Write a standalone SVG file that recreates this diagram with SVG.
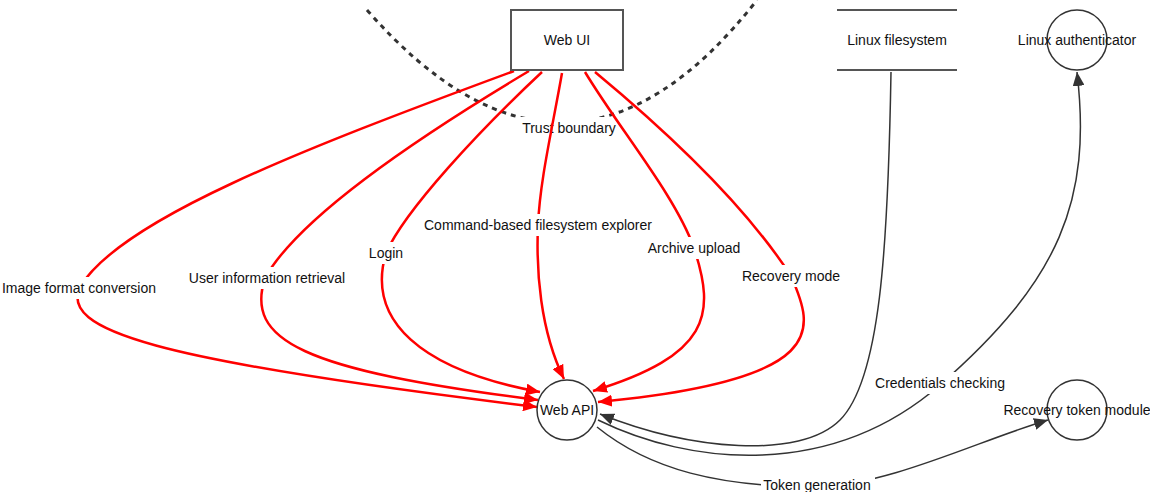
<svg xmlns="http://www.w3.org/2000/svg" width="1150" height="492" viewBox="0 0 1150 492">
<style>
  text { font-family: "Liberation Sans", Arial, sans-serif; font-size: 14px; fill: #111; text-anchor: middle; dominant-baseline: central; }
  .boundary { fill: none; stroke: #333; stroke-width: 3; stroke-dasharray: 5 5; }
  .red { fill: none; stroke: #ff0000; stroke-width: 2.5; marker-end: url(#arrRed); }
  .blk { fill: none; stroke: #333; stroke-width: 1.5; }
  .blkarr { marker-end: url(#arrBlk); }
  .lblbg { fill: #fff; stroke: none; }
  .proc { fill: none; stroke: #333; stroke-width: 1.5; }
  .actor { fill: #fff; stroke: #555; stroke-width: 2; }
  .store { stroke: #555; stroke-width: 2; }
</style>
<defs>
  <marker id="arrRed" markerUnits="userSpaceOnUse" markerWidth="16" markerHeight="12" refX="14" refY="6" orient="auto">
    <path d="M0,0 L14,6 L0,12 z" fill="#ff0000"/>
  </marker>
  <marker id="arrBlk" markerUnits="userSpaceOnUse" markerWidth="16" markerHeight="12" refX="14" refY="6" orient="auto">
    <path d="M0,0 L14,6 L0,12 z" fill="#333"/>
  </marker>
</defs>
<rect width="1150" height="492" fill="#fff"/>

<g id="trust-boundary">
  <path class="boundary" d="M367,10 Q569,240 757,0"/>
  <rect class="lblbg" x="519" y="117" width="100" height="24"/>
  <text x="569" y="128">Trust boundary</text>
</g>

<g id="connectors">
  <path class="red" d="M514,71 C300,150 120,220 80,287 C60,330 150,360 537,407"/>
  <path class="red" d="M529,71 C430,130 300,215 265,278 C245,340 300,370 538,400"/>
  <path class="red" d="M542,72 C480,130 405,210 386,253 C366,320 420,370 540,392"/>
  <path class="red" d="M562,73 C552,130 540,180 538,225 C536,270 540,330 564,379"/>
  <path class="red" d="M585,72 C620,130 675,195 694,248 C716,315 710,355 593,391"/>
  <path class="red" d="M595,72 C665,130 745,205 791,276 C815,330 830,380 598,402"/>
  <path class="blk blkarr" d="M891,72 C888,250 880,380 840,420 C800,460 690,450 600,414"/>
  <path class="blk blkarr" d="M598,420 C690,465 830,480 940,385 C1060,280 1092,200 1077,72"/>
  <path class="blk blkarr" d="M597,427 C650,470 720,487 817,487 C890,485 980,440 1048,420"/>

  <g id="edge-labels">
    <rect class="lblbg" x="0" y="277" width="160" height="22"/>
    <text x="79" y="288">Image format conversion</text>
    <rect class="lblbg" x="184" y="267" width="166" height="22"/>
    <text x="267" y="278">User information retrieval</text>
    <rect class="lblbg" x="367" y="242" width="38" height="22"/>
    <text x="386" y="253">Login</text>
    <rect class="lblbg" x="421" y="214" width="235" height="22"/>
    <text x="538" y="225">Command-based filesystem explorer</text>
    <rect class="lblbg" x="644" y="237" width="99" height="22"/>
    <text x="694" y="248">Archive upload</text>
    <rect class="lblbg" x="740" y="265" width="102" height="22"/>
    <text x="791" y="276">Recovery mode</text>
    <rect class="lblbg" x="873" y="372" width="135" height="22"/>
    <text x="940" y="383">Credentials checking</text>
    <rect class="lblbg" x="761" y="475" width="114" height="22"/>
    <text x="817" y="485">Token generation</text>
  </g>
</g>

<g id="web-ui">
  <rect class="actor" x="511" y="10" width="112" height="60"/>
  <text x="567" y="40">Web UI</text>
</g>

<g id="linux-filesystem">
  <line class="store" x1="837" y1="10" x2="957" y2="10"/>
  <line class="store" x1="837" y1="70" x2="957" y2="70"/>
  <text x="897" y="40">Linux filesystem</text>
</g>

<g id="linux-authenticator">
  <circle class="proc" cx="1077" cy="40" r="30"/>
  <text x="1077" y="40">Linux authenticator</text>
</g>

<g id="web-api">
  <circle class="proc" cx="567" cy="410" r="30"/>
  <text x="567" y="410">Web API</text>
</g>

<g id="recovery-token-module">
  <circle class="proc" cx="1077" cy="410" r="30"/>
  <text x="1077" y="410">Recovery token module</text>
</g>
</svg>
